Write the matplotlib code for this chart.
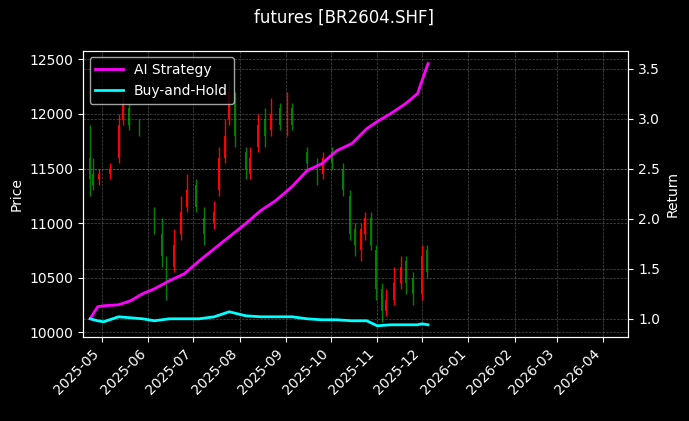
import matplotlib.pyplot as plt
import matplotlib.dates as mdates
import pandas as pd

plt.style.use('dark_background')

# K线数据（目测估计）
dates = ['2025-04-23', '2025-04-25', '2025-04-29', '2025-05-06', '2025-05-12', '2025-05-15',
         '2025-05-19', '2025-05-26', '2025-06-05', '2025-06-10', '2025-06-13', '2025-06-18',
         '2025-06-23', '2025-06-27', '2025-07-03', '2025-07-08', '2025-07-15', '2025-07-18',
         '2025-07-22', '2025-07-25', '2025-07-29', '2025-08-05', '2025-08-08', '2025-08-13',
         '2025-08-18', '2025-08-22', '2025-08-28', '2025-09-02', '2025-09-05', '2025-09-15',
         '2025-09-22', '2025-09-26', '2025-10-02', '2025-10-09', '2025-10-14', '2025-10-17',
         '2025-10-21', '2025-10-24', '2025-10-28', '2025-10-31', '2025-11-04', '2025-11-07',
         '2025-11-12', '2025-11-17', '2025-11-20', '2025-11-25', '2025-12-01', '2025-12-04']
opens = [11600, 11450, 11400, 11450, 11600, 11950, 12050, 11900, 11100, 10900, 10600, 10600,
         10900, 11150, 11350, 11050, 11000, 11300, 11600, 11950, 12150, 11650, 11450, 11700,
         11950, 11850, 12050, 11850, 12050, 11650, 11550, 11450, 11650, 11500, 11250, 10950,
         10750, 10900, 11050, 10750, 10400, 10200, 10300, 10450, 10650, 10500, 10350, 10750]
closes = [11400, 11350, 11450, 11500, 11900, 12100, 11900, 11850, 11000, 10700, 10500, 10800,
          11100, 11300, 11150, 10900, 11100, 11600, 11800, 12200, 11800, 11500, 11600, 11900,
          11800, 12000, 11900, 12050, 11900, 11550, 11400, 11600, 11550, 11300, 10900, 10800,
          10950, 11050, 10800, 10400, 10200, 10300, 10450, 10600, 10450, 10350, 10700, 10550]
highs = [11900, 11600, 11500, 11550, 12000, 12200, 12100, 11950, 11150, 11050, 10700, 10950,
         11250, 11450, 11400, 11150, 11200, 11700, 11950, 12300, 12200, 11700, 11700, 12000,
         12050, 12150, 12100, 12200, 12100, 11700, 11600, 11650, 11700, 11550, 11300, 11000,
         11000, 11100, 11100, 10800, 10450, 10400, 10600, 10700, 10700, 10550, 10800, 10800]
lows = [11250, 11300, 11350, 11400, 11550, 11900, 11850, 11800, 10900, 10600, 10300, 10550,
        10850, 11100, 11100, 10800, 10950, 11250, 11550, 11900, 11700, 11400, 11400, 11650,
        11700, 11800, 11850, 11800, 11850, 11500, 11350, 11400, 11500, 11250, 10850, 10700,
        10650, 10850, 10750, 10300, 10100, 10150, 10250, 10400, 10350, 10250, 10300, 10500]

# 收益数据
ret_dates = ['2025-04-23', '2025-04-28', '2025-05-02', '2025-05-12', '2025-05-20', '2025-05-28',
             '2025-06-05', '2025-06-15', '2025-06-25', '2025-07-05', '2025-07-15', '2025-07-25',
             '2025-08-05', '2025-08-15', '2025-08-25', '2025-09-05', '2025-09-15', '2025-09-25',
             '2025-10-05', '2025-10-15', '2025-10-25', '2025-11-01', '2025-11-10', '2025-11-20',
             '2025-11-28', '2025-12-01', '2025-12-05']
ai_ret = [1.0, 1.12, 1.13, 1.14, 1.18, 1.25, 1.30, 1.38, 1.45, 1.58, 1.70, 1.82, 1.95,
          2.08, 2.18, 2.32, 2.48, 2.55, 2.68, 2.75, 2.90, 2.97, 3.05, 3.15, 3.25, 3.38, 3.55]
bh_ret = [1.0, 0.98, 0.97, 1.02, 1.01, 1.00, 0.98, 1.00, 1.00, 1.00, 1.02, 1.07, 1.03,
          1.02, 1.02, 1.02, 1.00, 0.99, 0.99, 0.98, 0.98, 0.93, 0.94, 0.94, 0.94, 0.95, 0.94]

d = pd.to_datetime(dates)
rd = pd.to_datetime(ret_dates)

fig, ax = plt.subplots(figsize=(6.89, 4.21), dpi=100)
fig.patch.set_facecolor('black')
ax.set_facecolor('black')

for i in range(len(d)):
    c = 'red' if closes[i] >= opens[i] else 'green'
    ax.vlines(d[i], lows[i], highs[i], color=c, linewidth=1)
    ax.bar(d[i], abs(closes[i] - opens[i]), bottom=min(opens[i], closes[i]),
           width=1.2, color=c)

ax.set_ylabel('Price')
ax.set_ylim(9960, 12580)
ax.set_xlim(pd.Timestamp('2025-04-18'), pd.Timestamp('2026-04-18'))
ax.grid(True, linestyle='--', linewidth=0.5, color='gray', alpha=0.6)
ax.xaxis.set_major_locator(mdates.MonthLocator())
ax.xaxis.set_major_formatter(mdates.DateFormatter('%Y-%m'))
plt.setp(ax.get_xticklabels(), rotation=45, ha='right')

ax2 = ax.twinx()
ax2.plot(rd, ai_ret, color='magenta', linewidth=2, label='AI Strategy')
ax2.plot(rd, bh_ret, color='cyan', linewidth=2, label='Buy-and-Hold')
ax2.set_ylabel('Return')
ax2.set_ylim(0.82, 3.68)
ax2.grid(True, linestyle='--', linewidth=0.5, color='gray', alpha=0.6)
ax2.legend(loc='upper left')

fig.suptitle('futures [BR2604.SHF]')
fig.subplots_adjust(left=0.12, right=0.912, top=0.88, bottom=0.2)
fig.savefig('out.png')
